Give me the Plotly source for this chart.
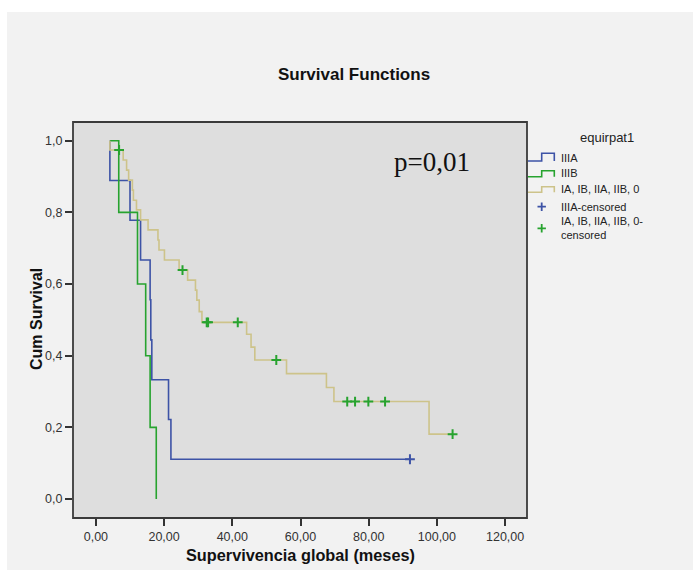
import plotly.graph_objects as go

# ---- Kaplan-Meier estimates per group (time in months, survival after each event) ----
curve_start = 4.1

iiia_times = [4.1, 10.0, 13.1, 15.9, 16.1, 16.4, 21.3, 22.0]
iiia_surv = [0.889, 0.778, 0.667, 0.556, 0.444, 0.333, 0.222, 0.111]
iiia_censored = [92.1]

iiib_times = [6.7, 12.2, 14.6, 15.9, 17.7]
iiib_surv = [0.8, 0.6, 0.4, 0.2, 0.0]

early_times = [4.1, 8.0, 9.0, 9.6, 10.7, 11.0, 11.9, 13.1, 15.3, 18.2, 18.5, 20.1,
               24.4, 26.9, 29.2, 29.6, 30.3, 31.1, 44.2, 45.5, 46.6, 55.9, 67.6,
               69.8, 97.7]
early_surv = [0.974, 0.946, 0.918, 0.890, 0.862, 0.834, 0.807, 0.779, 0.751, 0.723,
              0.695, 0.667, 0.639, 0.611, 0.583, 0.555, 0.523, 0.493, 0.460, 0.424,
              0.388, 0.350, 0.311, 0.272, 0.181]
early_censored = [6.8, 25.4, 32.5, 32.9, 41.6, 52.9, 73.7, 76.0, 79.9, 84.8, 104.6]

x_ticks = [0, 20, 40, 60, 80, 100, 120]
x_labels = ["0,00", "20,00", "40,00", "60,00", "80,00", "100,00", "120,00"]
y_ticks = [0.0, 0.2, 0.4, 0.6, 0.8, 1.0]
y_labels = ["0,0", "0,2", "0,4", "0,6", "0,8", "1,0"]

group_names = ["IIIA", "IIIB", "IA, IB, IIA, IIB, 0"]
BLUE = "#3d53a6"
GREEN = "#27a32f"
KHAKI = "#cdc38a"


def step_value(times, surv, t):
    """Survival level of the step function at time t."""
    s = 1.0
    for ti, si in zip(times, surv):
        if ti <= t:
            s = si
    return s


def km_path(times, surv, censored):
    xs = [curve_start] + list(times)
    ys = [1.0] + list(surv)
    if censored and max(censored) > xs[-1]:
        xs.append(max(censored))
        ys.append(ys[-1])
    return xs, ys


fig = go.Figure()

for times, surv, cens, color in [
    (iiia_times, iiia_surv, iiia_censored, BLUE),
    (iiib_times, iiib_surv, [], GREEN),
    (early_times, early_surv, early_censored, KHAKI),
]:
    xs, ys = km_path(times, surv, cens)
    fig.add_trace(go.Scatter(x=xs, y=ys, mode="lines", line=dict(color=color, width=1.6, shape="hv"),
                             showlegend=False, hoverinfo="skip"))

for times, surv, cens, color in [
    (iiia_times, iiia_surv, iiia_censored, BLUE),
    (early_times, early_surv, early_censored, GREEN),
]:
    fig.add_trace(go.Scatter(
        x=cens, y=[step_value(times, surv, t) for t in cens], mode="markers",
        marker=dict(symbol="cross-thin", size=7, line=dict(color=color, width=2)),
        showlegend=False, hoverinfo="skip"))

# ---- page geometry (pixels) ----
W, H = 693, 570
L, R, T, B = 73, 527, 122, 518
pw, ph = R - L, B - T


def px(x):
    return (x - L) / pw


def py(y):
    return (B - y) / ph


shapes = [
    # outer light panel
    dict(type="rect", xref="paper", yref="paper", x0=px(7), x1=px(W + 5), y0=py(H + 5), y1=py(12),
         fillcolor="#f2f2f2", line=dict(width=0), layer="below"),
    # plot area background
    dict(type="rect", xref="paper", yref="paper", x0=0, x1=1, y0=0, y1=1,
         fillcolor="#dedede", line=dict(color="#3a3a3a", width=1.8), layer="below"),
]

# legend step swatches
swatches = [(BLUE, 161, 153.3), (GREEN, 176.7, 170.7), (KHAKI, 192.3, 186.7)]
for color, lo, hi in swatches:
    path = (f"M{px(528)},{py(lo)} L{px(541.7)},{py(lo)} L{px(541.7)},{py(hi)} "
            f"L{px(554.3)},{py(hi)} L{px(554.3)},{py(lo)}")
    shapes.append(dict(type="path", xref="paper", yref="paper", path=path,
                       line=dict(color=color, width=1.6)))

# legend censor crosses
for color, yc in [(BLUE, 206.7), (GREEN, 228.3)]:
    path = (f"M{px(537.5)},{py(yc)} L{px(545.9)},{py(yc)} "
            f"M{px(541.7)},{py(yc - 4.2)} L{px(541.7)},{py(yc + 4.2)}")
    shapes.append(dict(type="path", xref="paper", yref="paper", path=path,
                       line=dict(color=color, width=1.8)))

LEG_FONT = dict(family="Liberation Sans, Arial", size=11, color="#222222")
annotations = [
    dict(text="equirpat1", x=px(607), y=py(137), xref="paper", yref="paper", showarrow=False,
         xanchor="center", yanchor="middle", font=dict(family="Liberation Sans, Arial", size=13, color="#222222")),
    dict(text=group_names[0], x=px(559), y=py(158.3), xref="paper", yref="paper", showarrow=False,
         xanchor="left", yanchor="middle", font=LEG_FONT),
    dict(text=group_names[1], x=px(559), y=py(173.3), xref="paper", yref="paper", showarrow=False,
         xanchor="left", yanchor="middle", font=LEG_FONT),
    dict(text=group_names[2], x=px(559), y=py(189.3), xref="paper", yref="paper", showarrow=False,
         xanchor="left", yanchor="middle", font=LEG_FONT),
    dict(text=group_names[0] + "-censored", x=px(559), y=py(206.7), xref="paper", yref="paper",
         showarrow=False, xanchor="left", yanchor="middle", font=LEG_FONT),
    dict(text=group_names[2] + "-<br>censored", x=px(559), y=py(227.5), xref="paper", yref="paper",
         showarrow=False, xanchor="left", yanchor="middle", align="left", font=LEG_FONT),
    dict(text="p=0,01", x=px(432), y=py(162), xref="paper", yref="paper", showarrow=False,
         xanchor="center", yanchor="middle",
         font=dict(family="Liberation Serif, Times New Roman", size=27, color="#111111")),
    dict(text="<b>Survival Functions</b>", x=px(354), y=py(74), xref="paper", yref="paper",
         showarrow=False, xanchor="center", yanchor="middle",
         font=dict(family="Liberation Sans, Arial", size=17, color="#111111")),
    dict(text="<b>Supervivencia global (meses)</b>", x=px(300), y=py(555), xref="paper", yref="paper",
         showarrow=False, xanchor="center", yanchor="middle",
         font=dict(family="Liberation Sans, Arial", size=16.3, color="#111111")),
    dict(text="<b>Cum Survival</b>", x=px(36), y=py(319), xref="paper", yref="paper",
         showarrow=False, xanchor="center", yanchor="middle", textangle=-90,
         font=dict(family="Liberation Sans, Arial", size=16, color="#111111")),
]

TICK_FONT = dict(family="Liberation Sans, Arial", size=12.5, color="#333333")
fig.update_layout(
    width=W, height=H,
    margin=dict(l=L, r=W - R, t=T, b=H - B, pad=0),
    paper_bgcolor="white",
    plot_bgcolor="rgba(0,0,0,0)",
    shapes=shapes,
    annotations=annotations,
    showlegend=False,
    xaxis=dict(range=[(L - 95.9) / 3.41, (R - 95.9) / 3.41], tickvals=x_ticks, ticktext=x_labels,
               showgrid=False, zeroline=False, showline=False, ticks="outside", ticklen=7,
               tickwidth=1.5, tickcolor="#333333", tickfont=TICK_FONT, fixedrange=True),
    yaxis=dict(range=[(499 - B) / 358.3, (499 - T) / 358.3], tickvals=y_ticks, ticktext=y_labels,
               showgrid=False, zeroline=False, showline=False, ticks="outside", ticklen=7,
               tickwidth=1.5, tickcolor="#333333", tickfont=TICK_FONT, fixedrange=True),
)

fig.write_html("out.html")
